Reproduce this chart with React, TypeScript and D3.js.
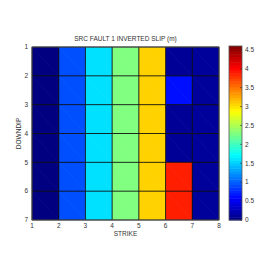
import { useEffect, useRef } from 'react';
import * as d3 from 'd3';

// slip per cell, rows = downdip 1..6, cols = strike 1..7
const strikeEdges = [1, 2, 3, 4, 5, 6, 7, 8];
const downdipEdges = [1, 2, 3, 4, 5, 6, 7];
const slipRows: number[][] = [
  [0.0, 0.93, 1.59, 2.3, 3.08, 0.1, 0.12],
  [0.0, 0.93, 1.59, 2.3, 3.08, 0.64, 0.12],
  [0.0, 0.93, 1.59, 2.3, 3.08, 0.1, 0.12],
  [0.0, 0.93, 1.59, 2.3, 3.08, 0.1, 0.12],
  [0.0, 0.93, 1.59, 2.3, 3.08, 3.89, 0.12],
  [0.0, 0.93, 1.59, 2.3, 3.08, 3.89, 0.12],
];
const cbTicks = [0, 0.5, 1, 1.5, 2, 2.5, 3, 3.5, 4, 4.5];
const cMax = 4.6;

const W = 274;
const H = 274;
const PLOT = { left: 32, top: 47, right: 219, bottom: 220 };
const CB = { left: 229, right: 242, top: 46, bottom: 220 };
const FONT = '"Liberation Sans", Arial, sans-serif';

const jet = (t: number) => {
  const c = (v: number) => Math.round(255 * Math.max(0, Math.min(1, v)));
  const r = c(1.5 - Math.abs(4 * t - 3));
  const g = c(1.5 - Math.abs(4 * t - 2));
  const b = c(1.5 - Math.abs(4 * t - 1));
  return `rgb(${r},${g},${b})`;
};

export default function App() {
  const svgRef = useRef<SVGSVGElement>(null);

  useEffect(() => {
    if (!svgRef.current) return;
    const svg = d3.select(svgRef.current);
    svg.selectAll('*').remove();

    const x = d3.scaleLinear().domain([1, 8]).range([PLOT.left, PLOT.right]);
    const y = d3.scaleLinear().domain([1, 7]).range([PLOT.top, PLOT.bottom]);
    const color = (v: number) => jet(Math.max(0, Math.min(1, v / cMax)));

    const cells = slipRows.flatMap((row, i) =>
      row.map((v, j) => ({ i, j, v }))
    );

    const g = svg.append('g');
    g.selectAll('rect.cell')
      .data(cells)
      .join('rect')
      .attr('class', 'cell')
      .attr('x', (d) => x(strikeEdges[d.j]))
      .attr('y', (d) => y(downdipEdges[d.i]))
      .attr('width', (d) => x(strikeEdges[d.j + 1]) - x(strikeEdges[d.j]))
      .attr('height', (d) => y(downdipEdges[d.i + 1]) - y(downdipEdges[d.i]))
      .attr('fill', (d) => color(d.v))
      .attr('shape-rendering', 'crispEdges');

    // faint triangulation diagonals
    g.selectAll('line.diag')
      .data(cells)
      .join('line')
      .attr('x1', (d) => x(strikeEdges[d.j]))
      .attr('y1', (d) => y(downdipEdges[d.i]))
      .attr('x2', (d) => x(strikeEdges[d.j + 1]))
      .attr('y2', (d) => y(downdipEdges[d.i + 1]))
      .attr('stroke', '#fff')
      .attr('stroke-opacity', 0.07)
      .attr('stroke-width', 0.6);

    // cell edges
    g.selectAll('line.vx')
      .data(strikeEdges)
      .join('line')
      .attr('x1', (d) => x(d))
      .attr('x2', (d) => x(d))
      .attr('y1', PLOT.top)
      .attr('y2', PLOT.bottom)
      .attr('stroke', '#111')
      .attr('stroke-width', 0.9);
    g.selectAll('line.hy')
      .data(downdipEdges)
      .join('line')
      .attr('y1', (d) => y(d))
      .attr('y2', (d) => y(d))
      .attr('x1', PLOT.left)
      .attr('x2', PLOT.right)
      .attr('stroke', '#111')
      .attr('stroke-width', 0.9);

    // axes box
    g.append('rect')
      .attr('x', PLOT.left)
      .attr('y', PLOT.top)
      .attr('width', PLOT.right - PLOT.left)
      .attr('height', PLOT.bottom - PLOT.top)
      .attr('fill', 'none')
      .attr('stroke', '#555')
      .attr('stroke-width', 0.8);

    const txt = (sel: d3.Selection<SVGTextElement, any, any, any>) =>
      sel.attr('font-family', FONT).attr('font-size', 6.5).attr('fill', '#333');

    g.selectAll('text.xt')
      .data(strikeEdges)
      .join('text')
      .attr('x', (d) => x(d))
      .attr('y', PLOT.bottom + 8)
      .attr('text-anchor', 'middle')
      .text((d) => d)
      .call(txt);

    g.selectAll('text.yt')
      .data(downdipEdges)
      .join('text')
      .attr('x', PLOT.left - 4)
      .attr('y', (d) => y(d) + 2.3)
      .attr('text-anchor', 'end')
      .text((d) => d)
      .call(txt);

    g.append('text')
      .attr('x', (PLOT.left + PLOT.right) / 2)
      .attr('y', 41)
      .attr('text-anchor', 'middle')
      .text('SRC FAULT 1 INVERTED SLIP (m)')
      .call(txt);

    g.append('text')
      .attr('x', (PLOT.left + PLOT.right) / 2)
      .attr('y', 236)
      .attr('text-anchor', 'middle')
      .text('STRIKE')
      .call(txt);

    g.append('text')
      .attr('transform', `translate(21,${(PLOT.top + PLOT.bottom) / 2}) rotate(-90)`)
      .attr('text-anchor', 'middle')
      .text('DOWNDIP')
      .call(txt);

    // colorbar
    const cy = d3.scaleLinear().domain([0, cMax]).range([CB.bottom, CB.top]);
    const steps = d3.range(64);
    g.selectAll('rect.cb')
      .data(steps)
      .join('rect')
      .attr('x', CB.left)
      .attr('width', CB.right - CB.left)
      .attr('y', (k) => cy(((k + 1) / 64) * cMax))
      .attr('height', (k) => cy((k / 64) * cMax) - cy(((k + 1) / 64) * cMax) + 0.5)
      .attr('fill', (k) => jet((k + 0.5) / 64));
    g.append('rect')
      .attr('x', CB.left)
      .attr('y', CB.top)
      .attr('width', CB.right - CB.left)
      .attr('height', CB.bottom - CB.top)
      .attr('fill', 'none')
      .attr('stroke', '#555')
      .attr('stroke-width', 0.8);
    g.selectAll('line.cbt')
      .data(cbTicks)
      .join('line')
      .attr('x1', CB.right - 2)
      .attr('x2', CB.right)
      .attr('y1', (d) => cy(d))
      .attr('y2', (d) => cy(d))
      .attr('stroke', '#333')
      .attr('stroke-width', 0.6);
    g.selectAll('text.cbl')
      .data(cbTicks)
      .join('text')
      .attr('x', CB.right + 3)
      .attr('y', (d) => cy(d) + 2.3)
      .text((d) => String(d))
      .call(txt);
  }, []);

  return (
    <svg
      ref={svgRef}
      width={W}
      height={H}
      style={{ display: 'block', position: 'absolute', left: 0, top: 0, background: '#fff' }}
    />
  );
}
